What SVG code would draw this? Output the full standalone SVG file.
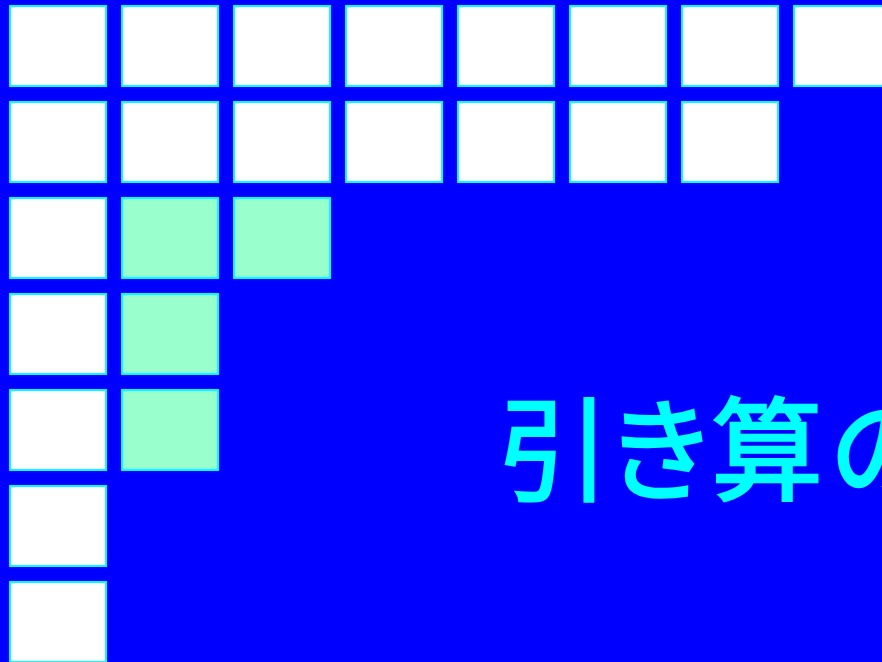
<svg xmlns="http://www.w3.org/2000/svg" width="882" height="662" viewBox="0 0 882 662">
<style>
.c{stroke:#00FFFF;stroke-width:2}
.w{fill:#FFFFFF}
.g{fill:#99FFCC}
.t{font-family:"Noto Sans CJK JP","Noto Sans CJK SC",sans-serif;font-size:112px;fill:#00FFFF;stroke:#00FFFF;stroke-width:2.5}
</style>
<rect x="0" y="0" width="882" height="662" fill="#0000FF"/>
<g id="row0">
<rect class="c w" x="10" y="6" width="96" height="80"/>
<rect class="c w" x="122" y="6" width="96" height="80"/>
<rect class="c w" x="234" y="6" width="96" height="80"/>
<rect class="c w" x="346" y="6" width="96" height="80"/>
<rect class="c w" x="458" y="6" width="96" height="80"/>
<rect class="c w" x="570" y="6" width="96" height="80"/>
<rect class="c w" x="682" y="6" width="96" height="80"/>
<rect class="c w" x="794" y="6" width="96" height="80"/>
</g>
<g id="row1">
<rect class="c w" x="10" y="102" width="96" height="80"/>
<rect class="c w" x="122" y="102" width="96" height="80"/>
<rect class="c w" x="234" y="102" width="96" height="80"/>
<rect class="c w" x="346" y="102" width="96" height="80"/>
<rect class="c w" x="458" y="102" width="96" height="80"/>
<rect class="c w" x="570" y="102" width="96" height="80"/>
<rect class="c w" x="682" y="102" width="96" height="80"/>
</g>
<g id="row2">
<rect class="c w" x="10" y="198" width="96" height="80"/>
<rect class="c g" x="122" y="198" width="96" height="80"/>
<rect class="c g" x="234" y="198" width="96" height="80"/>
</g>
<g id="row3">
<rect class="c w" x="10" y="294" width="96" height="80"/>
<rect class="c g" x="122" y="294" width="96" height="80"/>
</g>
<g id="row4">
<rect class="c w" x="10" y="390" width="96" height="80"/>
<rect class="c g" x="122" y="390" width="96" height="80"/>
</g>
<g id="row5">
<rect class="c w" x="10" y="486" width="96" height="80"/>
</g>
<g id="row6">
<rect class="c w" x="10" y="582" width="96" height="80"/>
</g>
<g id="title">
<text class="t" x="498 605 711 829" y="492">引き算の</text>
</g>
</svg>
